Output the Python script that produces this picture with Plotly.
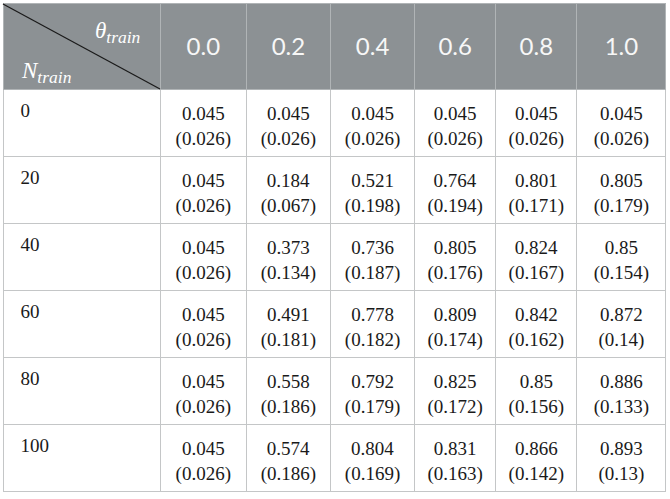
import plotly.graph_objects as go

# table values (mean and sd per theta column)
n_train = ["0", "20", "40", "60", "80", "100"]
theta_train = ["0.0", "0.2", "0.4", "0.6", "0.8", "1.0"]

means = {
    "0.0": ["0.045", "0.045", "0.045", "0.045", "0.045", "0.045"],
    "0.2": ["0.045", "0.184", "0.373", "0.491", "0.558", "0.574"],
    "0.4": ["0.045", "0.521", "0.736", "0.778", "0.792", "0.804"],
    "0.6": ["0.045", "0.764", "0.805", "0.809", "0.825", "0.831"],
    "0.8": ["0.045", "0.801", "0.824", "0.842", "0.85", "0.866"],
    "1.0": ["0.045", "0.805", "0.85", "0.872", "0.886", "0.893"],
}
sds = {
    "0.0": ["0.026", "0.026", "0.026", "0.026", "0.026", "0.026"],
    "0.2": ["0.026", "0.067", "0.134", "0.181", "0.186", "0.186"],
    "0.4": ["0.026", "0.198", "0.187", "0.182", "0.179", "0.169"],
    "0.6": ["0.026", "0.194", "0.176", "0.174", "0.172", "0.163"],
    "0.8": ["0.026", "0.171", "0.167", "0.162", "0.156", "0.142"],
    "1.0": ["0.026", "0.179", "0.154", "0.14", "0.133", "0.13"],
}

W, H = 670, 499
ml, mr, mt, mb = 3, 4, 3, 0
col_widths = [157, 86, 84, 84, 81, 81, 89]
header_h = 86
row_h = 67
table_bottom = 6      # px of white under the grid
text_drop = 26        # text layers sit lower, plotly tables have no valign
text_header_h = 66

pw = W - ml - mr
ph = H - mt - mb
def px_x(x):
    return (x - ml) / pw
def px_y(y):
    return 1 - (y - mt) / ph

NB = "\u00a0"
clear = "rgba(0,0,0,0)"
cell_font = dict(family="Liberation Serif", size=19, color="#1a1a1a")

# mean on line 1, sd on line 2; split in two layers so every line is centred on its own
mean_cols = [[NB + NB + n for n in n_train]]
sd_cols = [[""] * len(n_train)]
for t in theta_train:
    mean_cols.append([f"{m}<br>{NB}" for m in means[t]])
    sd_cols.append([f"{NB}<br>({s})" for s in sds[t]])

# grid layer: fills and rules only
grid = go.Table(
    domain=dict(x=[0, 1], y=[table_bottom / ph, 1]),
    columnwidth=col_widths,
    header=dict(values=[""] * (len(theta_train) + 1), fill_color="#8c9194",
                line=dict(color="#b0b4b6", width=1),
                height=header_h),
    cells=dict(values=[[""] * len(n_train) for _ in range(len(theta_train) + 1)],
               fill_color="white",
               line=dict(color="#c4c6c7", width=1),
               height=row_h),
)

def text_layer(header_vals, cols):
    return go.Table(
        domain=dict(x=[0, 1], y=[0, 1 - text_drop / ph]),
        columnwidth=col_widths,
        header=dict(values=header_vals, fill_color=clear,
                    line=dict(color=clear, width=0),
                    align="center",
                    font=dict(family="Lato", size=24, color="#f7f7f7"),
                    height=text_header_h),
        cells=dict(values=cols, fill_color=clear,
                   line=dict(color=clear, width=0),
                   align=["left"] + ["center"] * len(theta_train),
                   font=cell_font, height=row_h),
    )

fig = go.Figure([
    grid,
    text_layer([""] + theta_train, mean_cols),
    text_layer([""] * (len(theta_train) + 1), sd_cols),
])

# diagonal split in the corner header cell
fig.add_shape(type="line", xref="paper", yref="paper",
              x0=px_x(ml), y0=px_y(mt + 1), x1=px_x(ml + col_widths[0]), y1=px_y(mt + header_h),
              line=dict(color="#1a1a1a", width=1.2))

sub_style = "<span style='font-size:25px'><sub>train</sub></span>"
fig.add_annotation(text=f"<i>θ{sub_style}</i>", xref="paper", yref="paper",
                   x=px_x(143), y=px_y(32), xanchor="right", yanchor="middle",
                   showarrow=False, font=dict(family="Liberation Serif", size=23, color="white"))
fig.add_annotation(text=f"<i>N{sub_style}</i>", xref="paper", yref="paper",
                   x=px_x(19), y=px_y(72), xanchor="left", yanchor="middle",
                   showarrow=False, font=dict(family="Liberation Serif", size=23, color="white"))

fig.update_layout(width=W, height=H, margin=dict(l=ml, r=mr, t=mt, b=mb),
                  paper_bgcolor="white")

fig.write_html("out.html", config={"displayModeBar": False},
               post_script="document.body.style.margin='0';")
